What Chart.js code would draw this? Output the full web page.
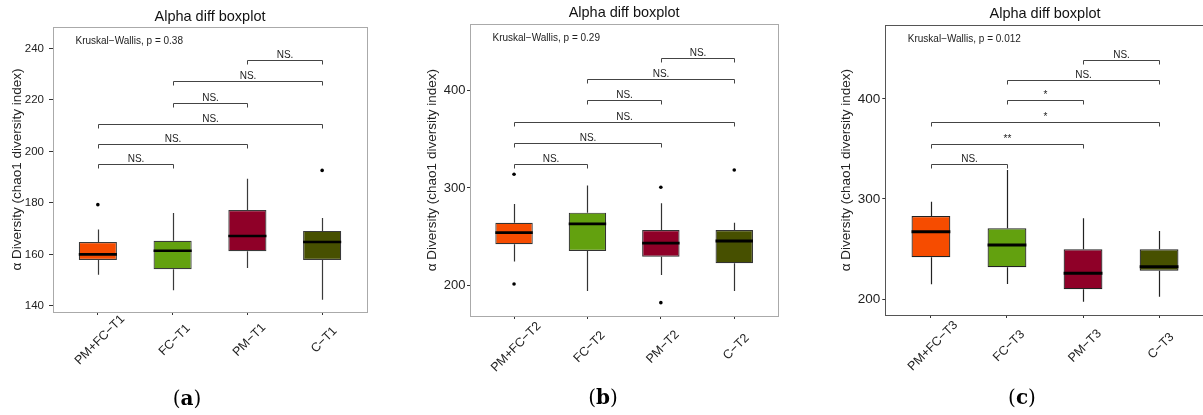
<!DOCTYPE html>
<html>
<head>
<meta charset="utf-8">
<script src="https://cdn.jsdelivr.net/npm/chart.js@4.4.0/dist/chart.umd.min.js"></script>
<style>
html, body { margin: 0; padding: 0; overflow: hidden; background: #fff; }
body { position: relative; width: 1203px; height: 415px; }
canvas { position: absolute; top: 0; }
.tag { position: absolute; width: 60px; text-align: center; line-height: 24px;
       font-family: "DejaVu Serif", serif; font-size: 20px; color: #000; }
</style>
</head>
<body>
<canvas id="chartA" width="400" height="415" style="left:0px"></canvas>
<canvas id="chartB" width="400" height="415" style="left:400px"></canvas>
<canvas id="chartC" width="410" height="415" style="left:800px"></canvas>
<div class="tag" style="left:157px;top:386px">(<b>a</b>)</div>
<div class="tag" style="left:573px;top:385px">(<b>b</b>)</div>
<div class="tag" style="left:992px;top:385px">(<b>c</b>)</div>
<script>
// box colours, same order in every panel
const boxColors = ['#f64c00', '#63a10f', '#8f0028', '#475000'];
// comparison pairs (group numbers), shared by the three panels
const pairFrom = [1, 1, 1, 2, 2, 3];
const pairTo = [2, 3, 4, 3, 4, 4];

// (a) T1
const categoriesA = ['PM+FC−T1', 'FC−T1', 'PM−T1', 'C−T1'];
const lowA = [152.1, 146.0, 154.7, 142.4];
const q1A = [157.8, 154.2, 161.2, 157.8];
const medianA = [160.0, 161.4, 167.1, 164.8];
const q3A = [164.8, 165.3, 177.2, 169.1];
const highA = [169.6, 176.1, 189.4, 174.1];
const outGroupA = [1, 4];
const outValueA = [179.3, 192.6];
const bracketYA = [194.9, 202.7, 210.8, 218.9, 227.4, 235.3];
const bracketTextA = ['NS.', 'NS.', 'NS.', 'NS.', 'NS.', 'NS.'];
const yTicksA = [140, 160, 180, 200, 220, 240];
const kruskalA = 'Kruskal−Wallis, p = 0.38';

// (b) T2
const categoriesB = ['PM+FC−T2', 'FC−T2', 'PM−T2', 'C−T2'];
const lowB = [224.3, 194.1, 210.6, 194.1];
const q1B = [242.1, 235.3, 229.4, 222.6];
const medianB = [254.1, 263.0, 243.2, 245.5];
const q3B = [264.3, 274.6, 256.8, 256.8];
const highB = [283.6, 302.4, 284.3, 264.3];
const outGroupB = [1, 1, 3, 3, 4];
const outValueB = [201.3, 314.1, 300.7, 182.1, 318.5];
const bracketYB = [325.0, 346.6, 368.1, 390.7, 412.0, 433.9];
const bracketTextB = ['NS.', 'NS.', 'NS.', 'NS.', 'NS.', 'NS.'];
const yTicksB = [200, 300, 400];
const kruskalB = 'Kruskal−Wallis, p = 0.29';

// (c) T3
const categoriesC = ['PM+FC−T3', 'FC−T3', 'PM−T3', 'C−T3'];
const lowC = [214.7, 215.0, 197.3, 202.3];
const q1C = [241.7, 231.7, 209.7, 228.3];
const medianC = [267.3, 254.0, 225.7, 232.3];
const q3C = [283.0, 270.7, 249.7, 249.7];
const highC = [297.3, 329.0, 280.7, 268.0];
const outGroupC = [];
const outValueC = [];
const bracketYC = [334.7, 355.0, 376.7, 399.0, 419.0, 439.0];
const bracketTextC = ['NS.', '**', '*', '*', 'NS.', 'NS.'];
const yTicksC = [200, 300, 400];
const kruskalC = 'Kruskal−Wallis, p = 0.012';

Chart.defaults.font.family = '"Liberation Sans", Arial, sans-serif';
Chart.defaults.color = '#333';

const boxExtras = {
  id: 'boxExtras',
  beforeDatasetsDraw(chart, args, o) {
    const ctx = chart.ctx, x = chart.scales.x, y = chart.scales.y;
    ctx.save();
    ctx.strokeStyle = o.lineColor;
    ctx.lineWidth = 1.2;
    o.low.forEach((v, i) => {
      const px = Math.round(x.getPixelForValue(i + 1)) + 0.5;
      ctx.beginPath();
      ctx.moveTo(px, y.getPixelForValue(v));
      ctx.lineTo(px, y.getPixelForValue(o.q1[i]));
      ctx.moveTo(px, y.getPixelForValue(o.q3[i]));
      ctx.lineTo(px, y.getPixelForValue(o.high[i]));
      ctx.stroke();
    });
    ctx.restore();
  },
  afterDatasetsDraw(chart, args, o) {
    const ctx = chart.ctx, x = chart.scales.x, y = chart.scales.y;
    const bars = chart.getDatasetMeta(0).data;
    ctx.save();
    ctx.strokeStyle = '#000';
    ctx.lineWidth = o.medianWidth;
    o.median.forEach((v, i) => {
      const px = x.getPixelForValue(i + 1), half = bars[i].width / 2;
      const py = y.getPixelForValue(v);
      ctx.beginPath();
      ctx.moveTo(px - half, py);
      ctx.lineTo(px + half, py);
      ctx.stroke();
    });
    ctx.restore();
  },
  afterDraw(chart, args, o) {
    const ctx = chart.ctx, x = chart.scales.x, y = chart.scales.y;
    const area = chart.chartArea;
    ctx.save();
    // significance brackets
    ctx.strokeStyle = '#444';
    ctx.lineWidth = 1;
    ctx.fillStyle = '#222';
    ctx.font = '10px "Liberation Sans", Arial, sans-serif';
    ctx.textAlign = 'center';
    ctx.textBaseline = 'alphabetic';
    o.bracketY.forEach((v, i) => {
      const x1 = Math.round(x.getPixelForValue(pairFrom[i])) + 0.5;
      const x2 = Math.round(x.getPixelForValue(pairTo[i])) + 0.5;
      const py = Math.round(y.getPixelForValue(v)) + 0.5;
      ctx.beginPath();
      ctx.moveTo(x1, py + 4);
      ctx.lineTo(x1, py);
      ctx.lineTo(x2, py);
      ctx.lineTo(x2, py + 4);
      ctx.stroke();
      ctx.fillText(o.bracketText[i], (x1 + x2) / 2, py - 2.5);
    });
    // Kruskal-Wallis note
    ctx.textAlign = 'left';
    ctx.textBaseline = 'middle';
    ctx.fillText(o.kruskal, area.left + 22.5, area.top + 14);
    // rotated category labels
    ctx.font = '12.5px "Liberation Sans", Arial, sans-serif';
    ctx.textAlign = 'center';
    o.categories.forEach((c, i) => {
      ctx.save();
      ctx.translate(x.getPixelForValue(i + 1) + 2, area.bottom + o.labelDy);
      ctx.rotate(-Math.PI / 4);
      ctx.fillText(c, 0, 0);
      ctx.restore();
    });
    // panel frame
    ctx.strokeStyle = o.frameColor;
    ctx.lineWidth = 1;
    ctx.strokeRect(Math.round(area.left) + 0.5, Math.round(area.top) + 0.5,
      Math.round(area.right - area.left), Math.round(area.bottom - area.top));
    ctx.restore();
  }
};

function makeChart(canvasId, d, lay) {
  return new Chart(document.getElementById(canvasId), {
    type: 'bar',
    data: {
      datasets: [{
        data: d.categories.map((c, i) => ({ x: i + 1, y: [d.q1[i], d.q3[i]] })),
        backgroundColor: boxColors,
        borderColor: lay.boxBorder,
        borderWidth: 1.2,
        borderSkipped: false,
        categoryPercentage: 1,
        barPercentage: 0.51
      }, {
        type: 'scatter',
        data: d.outGroup.map((g, i) => ({ x: g, y: d.outValue[i] })),
        pointRadius: 1.8,
        backgroundColor: '#000',
        borderWidth: 0
      }]
    },
    options: {
      responsive: false,
      animation: false,
      events: [],
      layout: { padding: { left: 0, right: lay.padRight, top: 0, bottom: 0 } },
      plugins: {
        legend: { display: false },
        tooltip: { enabled: false },
        title: {
          display: true,
          text: 'Alpha diff boxplot',
          fullSize: false,
          color: '#111',
          font: { size: 14.5, weight: 'normal' },
          padding: { top: lay.titlePad[0], bottom: lay.titlePad[1] }
        },
        boxExtras: {
          categories: d.categories, low: d.low, q1: d.q1, median: d.median,
          q3: d.q3, high: d.high, bracketY: d.bracketY, bracketText: d.bracketText,
          kruskal: d.kruskal, lineColor: lay.boxBorder, medianWidth: lay.medianWidth,
          frameColor: lay.frame, labelDy: lay.labelDy
        }
      },
      scales: {
        x: {
          type: 'linear',
          min: 0.4,
          max: 4.6,
          offset: false,
          afterBuildTicks: s => { s.ticks = d.categories.map((c, i) => ({ value: i + 1 })); },
          afterFit: s => { s.height = lay.xHeight; },
          ticks: { display: false },
          grid: { offset: false, drawOnChartArea: false, drawTicks: true, tickLength: 3, color: '#333' },
          border: { display: false }
        },
        y: {
          min: d.yMin,
          max: d.yMax,
          afterBuildTicks: s => { s.ticks = d.yTicks.map(v => ({ value: v })); },
          afterFit: s => { s.width = lay.yWidth; },
          ticks: { color: '#222', padding: lay.tickPad, font: { size: lay.tickSize } },
          grid: { drawOnChartArea: false, drawTicks: true, tickLength: lay.tickLen, color: '#333' },
          border: { display: false },
          title: {
            display: true,
            text: 'α Diversity (chao1 diversity index)',
            color: '#222',
            font: { size: 13.5 },
            padding: { top: lay.yTitlePad, bottom: 0 }
          }
        }
      }
    },
    plugins: [boxExtras]
  });
}

makeChart('chartA', {
  categories: categoriesA, low: lowA, q1: q1A, median: medianA, q3: q3A, high: highA,
  outGroup: outGroupA, outValue: outValueA, bracketY: bracketYA, bracketText: bracketTextA,
  yTicks: yTicksA, yMin: 137.6, yMax: 248.3, kruskal: kruskalA
}, {
  padRight: 33, xHeight: 103, yWidth: 53, titlePad: [8, 1.6], yTitlePad: 8.9,
  tickLen: 4, tickPad: 5, tickSize: 11.5, frame: '#aaaaaa', boxBorder: '#3a3a3a',
  medianWidth: 2.6, labelDy: 28
});

makeChart('chartB', {
  categories: categoriesB, low: lowB, q1: q1B, median: medianB, q3: q3B, high: highB,
  outGroup: outGroupB, outValue: outValueB, bracketY: bracketYB, bracketText: bracketTextB,
  yTicks: yTicksB, yMin: 168.4, yMax: 468.2, kruskal: kruskalB
}, {
  padRight: 21.7, xHeight: 99, yWidth: 70, titlePad: [4.6, 2.3], yTitlePad: 23.9,
  tickLen: 3, tickPad: 1.5, tickSize: 13, frame: '#aaaaaa', boxBorder: '#333333',
  medianWidth: 2.8, labelDy: 31
});

makeChart('chartC', {
  categories: categoriesC, low: lowC, q1: q1C, median: medianC, q3: q3C, high: highC,
  outGroup: outGroupC, outValue: outValueC, bracketY: bracketYC, bracketText: bracketTextC,
  yTicks: yTicksC, yMin: 184, yMax: 473.7, kruskal: kruskalC
}, {
  padRight: 5.3, xHeight: 100, yWidth: 85.3, titlePad: [5.3, 2.6], yTitlePad: 38.6,
  tickLen: 3, tickPad: 2, tickSize: 13.5, frame: '#555555', boxBorder: '#222222',
  medianWidth: 3, labelDy: 31
});
</script>
</body>
</html>
